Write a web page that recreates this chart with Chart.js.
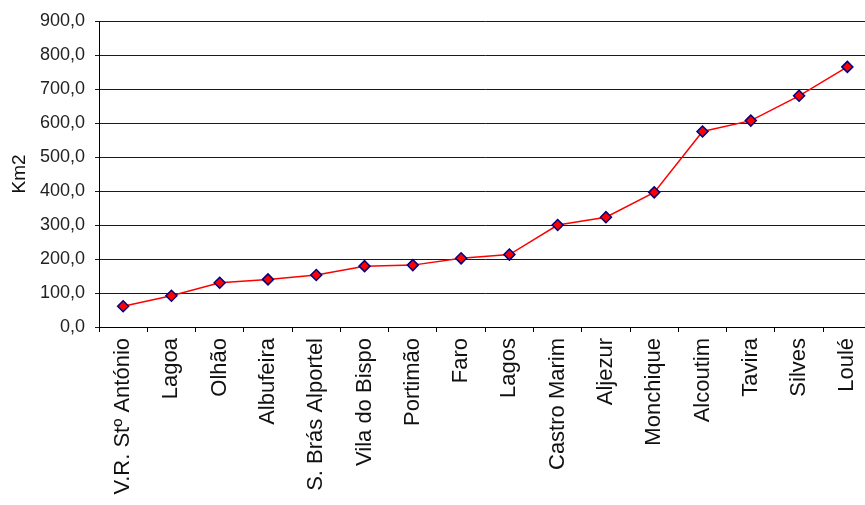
<!DOCTYPE html>
<html>
<head>
<meta charset="utf-8">
<script src="https://cdn.jsdelivr.net/npm/chart.js@4"></script>
<style>
  html, body { margin: 0; padding: 0; background: #fff; overflow: hidden; }
  #wrap { width: 880px; height: 505px; }
</style>
</head>
<body>
<div id="wrap"><canvas id="areaChart"></canvas></div>
<script>
// Municipalities, ordered by area
const concelhos = ['V.R. Stº António', 'Lagoa', 'Olhão', 'Albufeira', 'S. Brás Alportel',
    'Vila do Bispo', 'Portimão', 'Faro', 'Lagos', 'Castro Marim', 'Aljezur',
    'Monchique', 'Alcoutim', 'Tavira', 'Silves', 'Loulé'];
// Area in km2
const areas = [61, 92, 130, 140, 153, 179, 182, 202, 213, 300, 323, 396, 575, 607, 680, 765];
// Y axis range
const yMin = 0;
const yMax = 900;
const yStep = 100;

const ctx = document.getElementById('areaChart').getContext('2d');
new Chart(ctx, {
    type: 'line',
    data: {
        labels: concelhos,
        datasets: [{
            label: 'Km2',
            data: areas,
            borderColor: '#ff0000',
            borderWidth: 1.5,
            tension: 0,
            pointStyle: 'rectRot',
            pointRadius: 5.5,
            pointBackgroundColor: '#ff0000',
            pointBorderColor: '#000080',
            pointBorderWidth: 1.5
        }]
    },
    options: {
        responsive: true,
        maintainAspectRatio: false,
        animation: false,
        layout: { padding: { top: 21, right: 8, bottom: 0, left: 0 } },
        plugins: {
            legend: { display: false },
            tooltip: { enabled: false }
        },
        scales: {
            x: {
                offset: true,
                // the long rotated labels run off the bottom edge
                afterFit: function (scale) { scale.height = 178; },
                grid: {
                    offset: true,
                    drawOnChartArea: false,
                    color: '#000',
                    tickLength: 5
                },
                border: { color: '#000', width: 1 },
                ticks: {
                    autoSkip: false,
                    minRotation: 90,
                    maxRotation: 90,
                    padding: 6,
                    color: '#111',
                    font: { family: 'Liberation Sans', size: 22 }
                }
            },
            y: {
                min: yMin,
                max: yMax,
                afterFit: function (scale) { scale.width = 99; },
                grid: {
                    color: '#1a1a1a',
                    tickLength: 4
                },
                border: { color: '#000', width: 1 },
                title: {
                    display: true,
                    text: 'Km2',
                    color: '#111',
                    padding: { top: 8, bottom: 0 },
                    font: { family: 'Liberation Sans', size: 19 }
                },
                ticks: {
                    stepSize: yStep,
                    padding: 10,
                    color: '#222',
                    font: { family: 'Liberation Sans', size: 18 },
                    callback: function (value) {
                        return value.toFixed(1).replace('.', ',');
                    }
                }
            }
        }
    }
});
</script>
</body>
</html>
